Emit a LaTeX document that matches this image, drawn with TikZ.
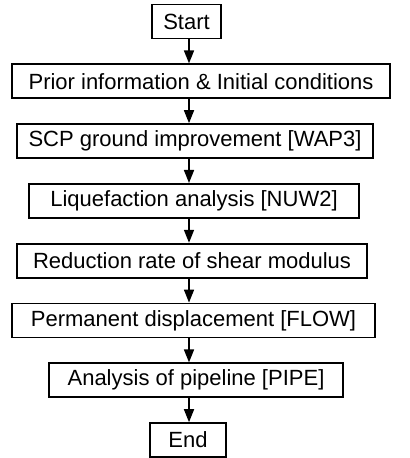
\documentclass[tikz,border=0pt]{standalone}
\usepackage{fontspec}
\setmainfont{Liberation Sans}
\usetikzlibrary{arrows.meta, positioning}

\begin{document}
\begin{tikzpicture}[
      font=\fontsize{11}{13}\selectfont,
      node distance=12pt,
      box/.style={draw, line width=0.9pt, minimum height=17pt,
                  inner sep=0pt, align=center},
      arr/.style={-{Triangle[length=6.5pt, width=5pt]}, line width=0.8pt},
  ]
  \useasboundingbox (0,0) rectangle (205pt,-229pt);

  %% Start
  \node[box, minimum width=34.5pt] (start) at (93.25pt,-10.75pt) {Start};

  %% Steps
  \node[box, minimum width=189pt, below=of start, xshift=7.25pt] (prior)
       {Prior information \& Initial conditions};
  \node[box, minimum width=178pt, below=of prior, xshift=-3pt] (scp)
       {SCP ground improvement [WAP3]};
  \node[box, minimum width=165pt, below=of scp, xshift=-0.5pt] (liq)
       {Liquefaction analysis [NUW2]};
  \node[box, minimum width=175pt, below=of liq, xshift=-1pt] (reduct)
       {Reduction rate of shear modulus};
  \node[box, minimum width=181.5pt, below=of reduct, xshift=0.75pt] (flow)
       {Permanent displacement [FLOW]};
  \node[box, minimum width=147pt, below=of flow, xshift=1.25pt] (pipe)
       {Analysis of pipeline [PIPE]};

  %% End
  \node[box, minimum width=38pt, below=of pipe, xshift=-4pt] (end) {End};

  %% Arrows
  \coordinate (spine) at (94.5pt,0);
  \draw[arr] (start.south -| spine)  -- (prior.north -| spine);
  \draw[arr] (prior.south -| spine)  -- (scp.north -| spine);
  \draw[arr] (scp.south -| spine)    -- (liq.north -| spine);
  \draw[arr] (liq.south -| spine)    -- (reduct.north -| spine);
  \draw[arr] (reduct.south -| spine) -- (flow.north -| spine);
  \draw[arr] (flow.south -| spine)   -- (pipe.north -| spine);
  \draw[arr] (pipe.south -| spine)   -- (end.north -| spine);

\end{tikzpicture}
\end{document}
